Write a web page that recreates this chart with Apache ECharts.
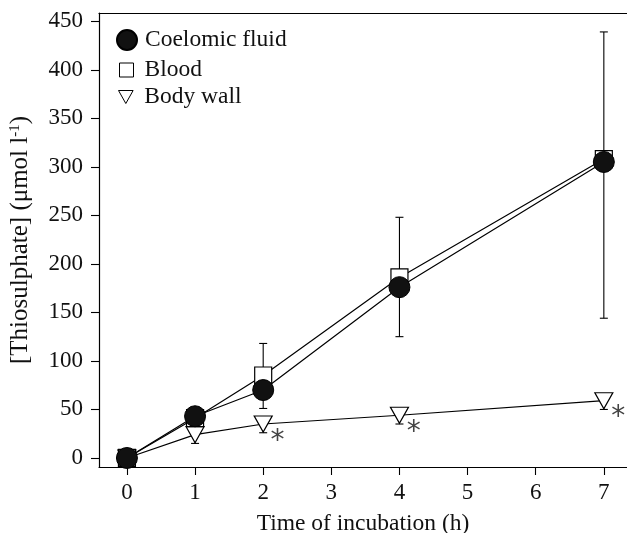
<!DOCTYPE html>
<html>
<head>
<meta charset="utf-8">
<script src="https://cdn.jsdelivr.net/npm/echarts@6/dist/echarts.min.js"></script>
<style>html,body{margin:0;padding:0;background:#fff;}#c{width:627px;height:533px;}</style>
</head>
<body>
<div id="c"></div>
<script>
// ---- data ----
const hours = [0, 1, 2, 4, 7];
const coelomic = [0, 43, 70, 176, 305];
const blood = [0, 41, 85, 186, 308];
const bodyWall = [0, 24, 35, 44, 59];
const bodyWallSig = [false, false, true, true, true];
const errHours = [2, 4, 7];
const errLow = [51, 125, 144];
const errHigh = [118, 248, 439];
const bwErrHours = [1, 2, 4, 7];
const bwErrLow = [15, 26, 35, 50];
const xTicks = [0, 1, 2, 3, 4, 5, 6, 7];
const yTicks = [0, 50, 100, 150, 200, 250, 300, 350, 400, 450];
const seriesNames = ['Coelomic fluid', 'Blood', 'Body wall'];

const FONT = "'Liberation Serif', 'Times New Roman', serif";
const TRI = 'path://M0,0L18,0L9,16Z';

const chart = echarts.init(document.getElementById('c'));

function errRender(params, api) {
  const x = api.value(0), lo = api.value(1), hi = api.value(2);
  const a = api.coord([x, lo]), b = api.coord([x, hi]);
  const w = 4;
  const st = { stroke: '#000', lineWidth: 1.1 };
  return {
    type: 'group',
    children: [
      { type: 'line', shape: { x1: a[0], y1: a[1], x2: b[0], y2: b[1] }, style: st },
      { type: 'line', shape: { x1: a[0] - w, y1: a[1], x2: a[0] + w, y2: a[1] }, style: st },
      { type: 'line', shape: { x1: b[0] - w, y1: b[1], x2: b[0] + w, y2: b[1] }, style: st }
    ]
  };
}

const bloodErr = errHours.map((h, i) => [h, errLow[i], errHigh[i]]);
const bwErr = bwErrHours.map((h, i) => [h, bwErrLow[i], bodyWall[hours.indexOf(h)]]);

const bwData = hours.map((h, i) => {
  const d = { value: [h, bodyWall[i]] };
  if (bodyWallSig[i]) {
    d.label = {
      show: true, formatter: '*', position: [24, 26], align: 'center', verticalAlign: 'middle',
      fontSize: 28, fontFamily: 'DejaVu Sans', color: '#444'
    };
  }
  return d;
});

const legendText = { fontFamily: FONT, fontSize: 23.5, color: '#111' };
const legendItemStyle = { borderWidth: 1 };

chart.setOption({
  animation: false,
  backgroundColor: '#fff',
  grid: { left: 99, right: 0, top: 13, bottom: 66, containLabel: false, outerBoundsMode: 'none' },
  legend: [
    { data: [{ name: seriesNames[0], icon: 'circle' }], left: 116, top: 28, padding: 0, itemWidth: 20, itemHeight: 20,
      textStyle: Object.assign({ padding: [0, 0, 0, 3] }, legendText), selectedMode: false },
    { data: [{ name: seriesNames[1], icon: 'rect' }], left: 119, top: 58, padding: 0, itemWidth: 14, itemHeight: 14,
      itemStyle: legendItemStyle,
      textStyle: Object.assign({ padding: [0, 0, 0, 6] }, legendText), selectedMode: false },
    { data: [{ name: seriesNames[2], icon: TRI }], left: 118, top: 85, padding: 0, itemWidth: 15, itemHeight: 13,
      itemStyle: legendItemStyle,
      textStyle: Object.assign({ padding: [0, 0, 0, 6] }, legendText), selectedMode: false }
  ],
  xAxis: [
    {
      type: 'value', min: -0.41, max: 7.34,
      name: 'Time of incubation (h)', nameLocation: 'middle', nameGap: 45,
      nameTextStyle: { fontFamily: FONT, fontSize: 23.5, color: '#111' },
      axisLine: { show: true, onZero: false, lineStyle: { color: '#000', width: 1.2 } },
      axisTick: { show: true, length: 8, customValues: xTicks, lineStyle: { color: '#000', width: 1.1 } },
      axisLabel: { customValues: xTicks, margin: 14, fontFamily: FONT, fontSize: 23, color: '#111' },
      splitLine: { show: false }
    },
    {
      type: 'value', min: -0.41, max: 7.34, position: 'top',
      axisLine: { show: true, onZero: false, lineStyle: { color: '#000', width: 1.2 } },
      axisTick: { show: false }, axisLabel: { show: false }, splitLine: { show: false }
    }
  ],
  yAxis: {
    type: 'value', min: -9.3, max: 458.5,
    name: '{a|[Thiosulphate] (μmol l}{s|-1}{a|)}', nameLocation: 'middle', nameGap: 66, nameRotate: 90,
    nameTextStyle: {
      rich: {
        a: { fontFamily: FONT, fontSize: 25, color: '#111' },
        s: { fontFamily: FONT, fontSize: 15, color: '#111', verticalAlign: 'top', padding: [0, 0, 9, 0] }
      }
    },
    axisLine: { show: true, onZero: false, lineStyle: { color: '#000', width: 1.2 } },
    axisTick: { show: true, length: 8, customValues: yTicks, lineStyle: { color: '#000', width: 1.1 } },
    axisLabel: { customValues: yTicks, margin: 16, fontFamily: FONT, fontSize: 23, color: '#111' },
    splitLine: { show: false }
  },
  series: [
    { type: 'custom', name: 'err1', renderItem: errRender, data: bloodErr, z: 1, silent: true },
    { type: 'custom', name: 'err2', renderItem: errRender, data: bwErr, z: 1, silent: true },
    {
      type: 'line', name: seriesNames[2], data: bwData, z: 2,
      symbol: TRI, symbolSize: [18, 16], showAllSymbol: true,
      lineStyle: { color: '#000', width: 1.2 },
      itemStyle: { color: '#fff', borderColor: '#000', borderWidth: 1.2 }
    },
    {
      type: 'line', name: seriesNames[1], data: hours.map((h, i) => [h, blood[i]]), z: 3,
      symbol: 'rect', symbolSize: 17,
      lineStyle: { color: '#000', width: 1.2 },
      itemStyle: { color: '#fff', borderColor: '#000', borderWidth: 1.2 }
    },
    {
      type: 'line', name: seriesNames[0], data: hours.map((h, i) => [h, coelomic[i]]), z: 4,
      symbol: 'circle', symbolSize: 21,
      lineStyle: { color: '#000', width: 1.2 },
      itemStyle: { color: '#111', borderColor: '#000', borderWidth: 1 }
    }
  ]
});
</script>
</body>
</html>
